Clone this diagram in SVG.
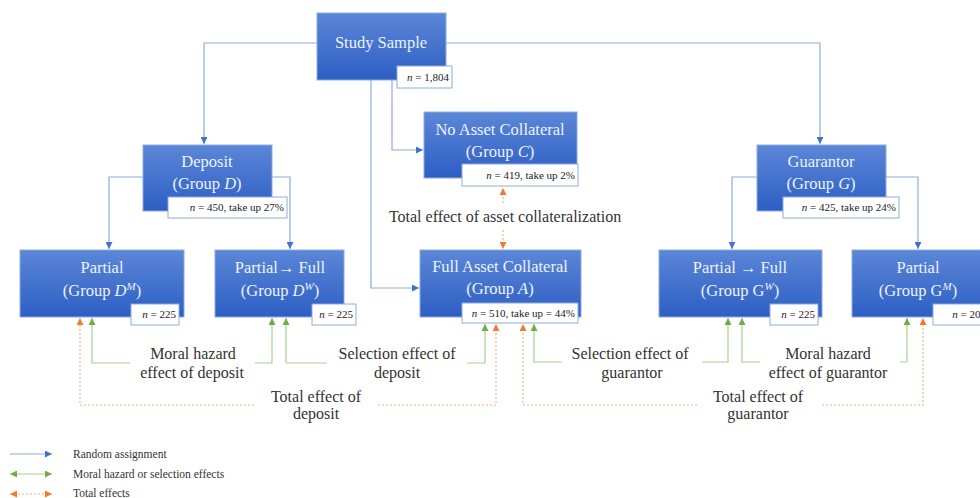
<svg xmlns="http://www.w3.org/2000/svg" width="980" height="498" viewBox="0 0 980 498" font-family="'Liberation Serif', 'Times New Roman', serif">
<defs>
<linearGradient id="bg" x1="0" y1="0" x2="0" y2="1">
<stop offset="0" stop-color="#5b87d7"/>
<stop offset="1" stop-color="#2d5ec4"/>
</linearGradient>
<marker id="ab" markerUnits="userSpaceOnUse" markerWidth="7" markerHeight="7" refX="7" refY="3.5" orient="auto-start-reverse"><path d="M0,0 L7,3.5 L0,7 z" fill="#4472c4"/></marker>
<marker id="ag" markerUnits="userSpaceOnUse" markerWidth="7" markerHeight="7" refX="7" refY="3.5" orient="auto-start-reverse"><path d="M0,0 L7,3.5 L0,7 z" fill="#70ad47"/></marker>
<marker id="ao" markerUnits="userSpaceOnUse" markerWidth="7" markerHeight="7" refX="7" refY="3.5" orient="auto-start-reverse"><path d="M0,0 L7,3.5 L0,7 z" fill="#ed7d31"/></marker>
<style>
text{font-family:'Liberation Serif','Times New Roman',serif}
.box{fill:url(#bg);stroke:#8eaadb;stroke-width:1}
.bt{font-size:16.5px;fill:#eef2fa;text-anchor:middle}
.lbl{fill:#fff;stroke:#8eaadb;stroke-width:1}
.lt{font-size:11px;fill:#222;text-anchor:end}
.et{font-size:16px;fill:#333;text-anchor:middle}
.leg{font-size:11.5px;fill:#333}
.b{fill:none;stroke:#8faadc;stroke-width:1.2}
.g{fill:none;stroke:#a9d18e;stroke-width:1.2}
.o{fill:none;stroke:#f4b183;stroke-width:1.2;stroke-dasharray:2,2}
.i{font-style:italic}
</style>
</defs>
<rect width="980" height="498" fill="#fff"/>

<g id="connectors">
<path class="b" d="M317,43 H204 V144" marker-end="url(#ab)"/>
<path class="b" d="M446,43 H820 V144" marker-end="url(#ab)"/>
<path class="b" d="M371,80 V288 H419" marker-end="url(#ab)"/>
<path class="b" d="M392,80 V150 H423" marker-end="url(#ab)"/>
<path class="b" d="M143,177 H109 V249" marker-end="url(#ab)"/>
<path class="b" d="M272,177 H290 V249" marker-end="url(#ab)"/>
<path class="b" d="M757,177 H732 V249" marker-end="url(#ab)"/>
<path class="b" d="M886,177 H918 V249" marker-end="url(#ab)"/>

<path class="o" d="M503,203 V188" marker-end="url(#ao)"/>
<path class="o" d="M503,230 V249" marker-end="url(#ao)"/>

<path class="g" d="M130,363 H92 V318" marker-end="url(#ag)"/>
<path class="g" d="M255,363 H272 V318" marker-end="url(#ag)"/>
<path class="g" d="M327,363 H286 V318" marker-end="url(#ag)"/>
<path class="g" d="M467,363 H485 V324" marker-end="url(#ag)"/>
<path class="o" d="M254,405 H80 V318" marker-end="url(#ao)"/>
<path class="o" d="M378,405 H496 V324" marker-end="url(#ao)"/>

<path class="g" d="M562,362 H534 V324" marker-end="url(#ag)"/>
<path class="g" d="M702,362 H728 V318" marker-end="url(#ag)"/>
<path class="g" d="M760,362 H742 V318" marker-end="url(#ag)"/>
<path class="g" d="M900,362 H907 V318" marker-end="url(#ag)"/>
<path class="o" d="M697,405 H523 V324" marker-end="url(#ao)"/>
<path class="o" d="M822,405 H923 V318" marker-end="url(#ao)"/>
</g>

<g id="study-sample">
<rect class="box" x="317" y="13" width="129" height="67"/>
<text class="bt" x="381" y="48">Study Sample</text>
<rect class="lbl" x="397" y="66" width="55" height="22"/>
<text class="lt" x="449" y="81"><tspan class="i">n</tspan> = 1,804</text>
</g>

<g id="deposit">
<rect class="box" x="143" y="145" width="129" height="66"/>
<text class="bt" x="207" y="167">Deposit</text>
<text class="bt" x="207" y="189">(Group <tspan class="i">D</tspan>)</text>
<rect class="lbl" x="168" y="197" width="119" height="21"/>
<text class="lt" x="284" y="211"><tspan class="i">n</tspan> = 450, take up 27%</text>
</g>

<g id="no-asset-collateral">
<rect class="box" x="424" y="112" width="153" height="66"/>
<text class="bt" x="500" y="135">No Asset Collateral</text>
<text class="bt" x="500" y="157">(Group <tspan class="i">C</tspan>)</text>
<rect class="lbl" x="462" y="164" width="116" height="22"/>
<text class="lt" x="575" y="179"><tspan class="i">n</tspan> = 419, take up 2%</text>
</g>

<g id="guarantor">
<rect class="box" x="757" y="145" width="129" height="66"/>
<text class="bt" x="821" y="167">Guarantor</text>
<text class="bt" x="821" y="189">(Group <tspan class="i">G</tspan>)</text>
<rect class="lbl" x="783" y="197" width="116" height="21"/>
<text class="lt" x="896" y="211"><tspan class="i">n</tspan> = 425, take up 24%</text>
</g>

<g id="partial-d">
<rect class="box" x="20" y="250" width="164" height="67"/>
<text class="bt" x="102" y="273">Partial</text>
<text class="bt" x="102" y="296">(Group <tspan class="i">D</tspan><tspan class="i" font-size="11" dy="-6">M</tspan><tspan dy="6">)</tspan></text>
<rect class="lbl" x="131" y="304" width="48" height="21"/>
<text class="lt" x="176" y="318"><tspan class="i">n</tspan> = 225</text>
</g>

<g id="partial-full-d">
<rect class="box" x="215" y="250" width="129" height="67"/>
<text class="bt" x="280" y="273">Partial→ Full</text>
<text class="bt" x="280" y="296">(Group <tspan class="i">D</tspan><tspan class="i" font-size="11" dy="-6">W</tspan><tspan dy="6">)</tspan></text>
<rect class="lbl" x="312" y="304" width="44" height="21"/>
<text class="lt" x="353" y="318"><tspan class="i">n</tspan> = 225</text>
</g>

<g id="full-asset-collateral">
<rect class="box" x="420" y="250" width="161" height="67"/>
<text class="bt" x="500" y="272">Full Asset Collateral</text>
<text class="bt" x="500" y="294">(Group <tspan class="i">A</tspan>)</text>
<rect class="lbl" x="462" y="303" width="116" height="20"/>
<text class="lt" x="575" y="317"><tspan class="i">n</tspan> = 510, take up = 44%</text>
</g>

<g id="partial-full-g">
<rect class="box" x="659" y="250" width="163" height="67"/>
<text class="bt" x="740" y="273">Partial → Full</text>
<text class="bt" x="740" y="296">(Group G<tspan class="i" font-size="11" dy="-6">W</tspan><tspan dy="6">)</tspan></text>
<rect class="lbl" x="770" y="304" width="48" height="21"/>
<text class="lt" x="815" y="318"><tspan class="i">n</tspan> = 225</text>
</g>

<g id="partial-g">
<rect class="box" x="852" y="250" width="132" height="67"/>
<text class="bt" x="918" y="273">Partial</text>
<text class="bt" x="918" y="296">(Group G<tspan class="i" font-size="11" dy="-6">M</tspan><tspan dy="6">)</tspan></text>
<rect class="lbl" x="933" y="304" width="55" height="21"/>
<text class="lt" x="986" y="318"><tspan class="i">n</tspan> = 200</text>
</g>

<g id="effect-labels">
<text class="et" x="505" y="222">Total effect of asset collateralization</text>
<text class="et" x="193" y="359">Moral hazard</text>
<text class="et" x="192" y="378">effect of deposit</text>
<text class="et" x="397" y="359">Selection effect of</text>
<text class="et" x="397" y="378">deposit</text>
<text class="et" x="316" y="402">Total effect of</text>
<text class="et" x="316" y="419">deposit</text>
<text class="et" x="630" y="359">Selection effect of</text>
<text class="et" x="632" y="378">guarantor</text>
<text class="et" x="828" y="359">Moral hazard</text>
<text class="et" x="828" y="378">effect of guarantor</text>
<text class="et" x="758" y="402">Total effect of</text>
<text class="et" x="758" y="419">guarantor</text>
</g>

<g id="legend">
<path class="b" d="M10,454 H52" marker-end="url(#ab)"/>
<path class="g" d="M10,474 H52" marker-start="url(#ag)" marker-end="url(#ag)"/>
<path class="o" d="M10,494 H52" marker-start="url(#ao)" marker-end="url(#ao)"/>
<text class="leg" x="73" y="458">Random assignment</text>
<text class="leg" x="73" y="478">Moral hazard or selection effects</text>
<text class="leg" x="73" y="497">Total effects</text>
</g>
</svg>
